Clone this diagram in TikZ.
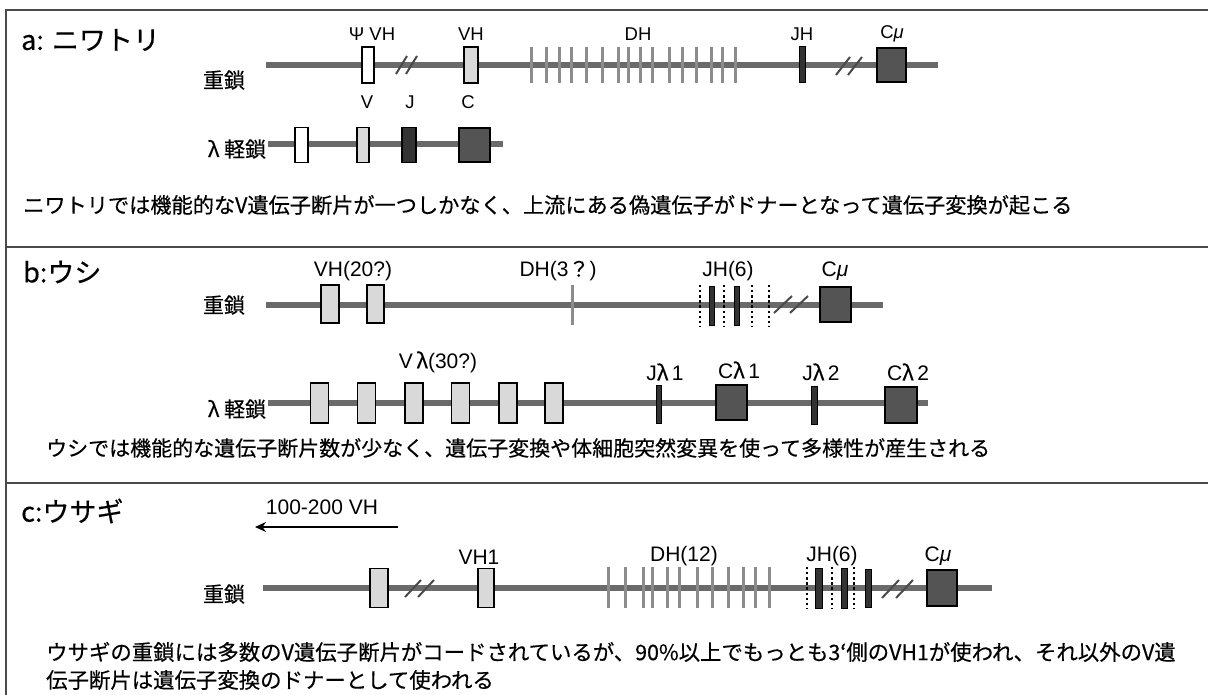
\documentclass[tikz,border=0pt]{standalone}
\usepackage{fontspec}
\setmainfont{Liberation Sans}
\newfontfamily\cjk[FakeBold=0.4]{Noto Sans CJK JP}
\usetikzlibrary{arrows.meta}
\definecolor{chromc}{HTML}{6A6A6A}
\definecolor{framec}{HTML}{4A4A4A}
\definecolor{lightc}{HTML}{D9D9D9}
\definecolor{darkc}{HTML}{545454}
\definecolor{jc}{HTML}{333333}
\definecolor{dhc}{HTML}{8C8C8C}
\tikzset{
  frame/.style={draw=framec, line width=1.8pt},
  chrom/.style={draw=chromc, line width=5.5pt},
  wbox/.style={draw=black, fill=white, line width=1.3pt, inner sep=0, outer sep=0},
  lbox/.style={draw=black, fill=lightc, line width=1.3pt, inner sep=0, outer sep=0},
  dbox/.style={draw=black, fill=darkc, line width=1.3pt, inner sep=0, outer sep=0},
  jbar/.style={draw=black, fill=jc, line width=1pt, inner sep=0, outer sep=0},
  dhbar/.style={draw=dhc, line width=3pt},
  dotl/.style={draw=black, line width=2.3pt, dash pattern=on 2.3pt off 2.8pt},
  brk/.style={draw=framec, line width=2pt},
  lbla/.style={font=\fontsize{18.5}{18.5}\selectfont, inner sep=0},
  lblb/.style={font=\fontsize{21}{21}\selectfont, inner sep=0},
  jlbl/.style={font=\cjk\fontsize{21}{21}\selectfont, inner sep=0},
  ttl/.style={font=\cjk\fontsize{27}{27}\selectfont, inner sep=0, anchor=west},
  body/.style={font=\cjk\fontsize{#1}{#1}\selectfont, inner sep=0, anchor=west},
}
\begin{document}
\begin{tikzpicture}[x=1pt,y=-1pt]
\useasboundingbox (0,0) rectangle (1208,695);
\fill[white] (0,0) rectangle (1208,695);
% frame
\coordinate (fTR) at (1208,10); \coordinate (fTL) at (6,10); \coordinate (fBL) at (6,695);
\coordinate (d1L) at (6,247); \coordinate (d1R) at (1208,247);
\coordinate (d2L) at (6,483); \coordinate (d2R) at (1208,483);
\draw[frame] (fTR) -- (fTL) -- (fBL);
\draw[frame] (d1L) -- (d1R);
\draw[frame] (d2L) -- (d2R);

% ===== a =====
\node[ttl] (aT) at (21,40) {a: ニワトリ};
\node[jlbl] (aHl) at (224,80) {重鎖};
\coordinate (aHs) at (266,65); \coordinate (aHe) at (938,65);
\draw[chrom] (aHs) -- (aHe);
\node[wbox, minimum width=12pt, minimum height=36pt] (aPsi) at (368,65) {};
\draw[brk] (396,74) -- (407,56);
\draw[brk] (406,74) -- (417,56);
\node[lbox, minimum width=14pt, minimum height=36pt] (aVH) at (471,65) {};
\foreach \x in {531.7,546,559.3,571.7,586,602.3,618.3,628.3,640.7,652.7,669.3,682.3,696.7,711.7,722.7,735}
  \draw[dhbar] (\x,47) -- (\x,83);
\node[jbar, minimum width=6pt, minimum height=36pt] (aJH) at (802,65) {};
\draw[brk] (836,75) -- (850,57);
\draw[brk] (848,75) -- (862,57);
\node[dbox, minimum width=29pt, minimum height=34pt] (aC) at (891.5,65) {};
\node[lbla] (aPsiL) at (372,34) {Ψ VH};
\node[lbla] (aVHL) at (471,34) {VH};
\node[lbla] (aDHL) at (638,34) {DH};
\node[lbla] (aJHL) at (802,34) {JH};
\node[lbla] (aCL) at (892,34) {C{\itshape μ}};
% lambda a
\node[jlbl] (aLl) at (237,149) {λ 軽鎖};
\coordinate (aLs) at (268,144); \coordinate (aLe) at (503,144);
\draw[chrom] (aLs) -- (aLe);
\node[wbox, minimum width=13pt, minimum height=35pt] (aL0) at (301.5,145) {};
\node[lbox, minimum width=12pt, minimum height=35pt] (aLV) at (363,145) {};
\node[dbox, fill=jc, minimum width=14pt, minimum height=35pt] (aLJ) at (409,145) {};
\node[dbox, minimum width=31pt, minimum height=34pt] (aLC) at (474.5,145) {};
\node[lbla] (aVL) at (367,102) {V};
\node[lbla] (aJL) at (410,102) {J};
\node[lbla] (aCCL) at (468,102) {C};
\node[body=21.2] (aTxt) at (23,205) {ニワトリでは機能的なV遺伝子断片が一つしかなく、上流にある偽遺伝子がドナーとなって遺伝子変換が起こる};

% ===== b =====
\node[ttl] (bT) at (23,272) {b:ウシ};
\node[jlbl] (bHl) at (224,305) {重鎖};
\coordinate (bHs) at (266,305); \coordinate (bHe) at (883,305);
\draw[chrom] (bHs) -- (bHe);
\node[lbox, minimum width=18pt, minimum height=38pt] (bV1) at (330,304) {};
\node[lbox, minimum width=17pt, minimum height=38pt] (bV2) at (375.5,304) {};
\draw[dhbar] (572,285) -- (572,325);
\foreach \x in {700,724,752,769}
  \draw[dotl] (\x,285) -- (\x,326);
\node[jbar, minimum width=5pt, minimum height=38pt] (bJ1) at (711.5,306) {};
\node[jbar, minimum width=5pt, minimum height=38pt] (bJ2) at (736.5,306) {};
\draw[brk] (774,313) -- (792,296);
\draw[brk] (790,313) -- (808,296);
\node[dbox, minimum width=31pt, minimum height=35pt] (bC) at (835.5,304.5) {};
\node[lblb] (bVHL) at (353,271) {VH(20?)};
\node[lblb] (bDHL) at (558,271) {DH(3{\cjk ？})};
\node[lblb] (bJHL) at (728,271) {JH(6)};
\node[lblb] (bCL) at (835,271) {C{\itshape μ}};
% lambda b
\node[jlbl] (bLl) at (237,409) {λ 軽鎖};
\coordinate (bLs) at (268,403); \coordinate (bLe) at (928,403);
\draw[chrom] (bLs) -- (bLe);
\foreach \x [count=\i] in {319.5,366.5,414,460.5,508,554}
  \node[lbox, minimum width=18pt, minimum height=40pt] (bLV\i) at (\x,403) {};
\node[jbar, minimum width=5pt, minimum height=38pt] (bLJ1) at (659,404) {};
\node[dbox, minimum width=31pt, minimum height=35pt] (bLC1) at (731.5,402.5) {};
\node[jbar, minimum width=6pt, minimum height=38pt] (bLJ2) at (814.5,405) {};
\node[dbox, minimum width=32pt, minimum height=36pt] (bLC2) at (901,405) {};
\node[lblb] (bVlL) at (438,362) {V\,{\cjk λ}(30?)};
\node[lblb] (bJ1L) at (665,372) {J{\cjk λ}\,1};
\node[lblb] (bC1L) at (739,370) {C{\cjk λ}\,1};
\node[lblb] (bJ2L) at (821,372) {J{\cjk λ}\,2};
\node[lblb] (bC2L) at (908,372) {C{\cjk λ}\,2};
\node[body=21] (bTxt) at (46,448) {ウシでは機能的な遺伝子断片数が少なく、遺伝子変換や体細胞突然変異を使って多様性が産生される};

% ===== c =====
\node[ttl] (cT) at (21,511) {c:ウサギ};
\node[lblb] (cArrL) at (322,507) {100-200 VH};
\coordinate (cAs) at (398,527); \coordinate (cAe) at (255,527);
\draw[line width=2.5pt, -{Stealth[length=11pt,width=10pt]}] (cAs) -- (cAe);
\node[jlbl] (cHl) at (224,594) {重鎖};
\coordinate (cHs) at (263,588); \coordinate (cHe) at (992,588);
\draw[chrom] (cHs) -- (cHe);
\node[lbox, minimum width=18pt, minimum height=39pt] (cV0) at (379,588) {};
\draw[brk] (405,597) -- (421,580);
\draw[brk] (418,597) -- (434,580);
\node[lbox, minimum width=16pt, minimum height=39pt] (cV1) at (486,588) {};
\foreach \x in {608,625,643,652,667,679,697,712,728,743,755,769}
  \draw[dhbar] (\x,567) -- (\x,608);
\foreach \x in {807,832,854}
  \draw[dotl] (\x,567) -- (\x,609);
\node[jbar, minimum width=7pt, minimum height=40pt] (cJ1) at (818.5,588) {};
\node[jbar, minimum width=6pt, minimum height=40pt] (cJ2) at (844,588) {};
\node[jbar, minimum width=6pt, minimum height=38pt] (cJ3) at (868,588) {};
\draw[brk] (882,598) -- (899,580);
\draw[brk] (896,598) -- (913,580);
\node[dbox, minimum width=30pt, minimum height=36pt] (cC) at (942,588) {};
\node[lblb] (cV1L) at (479,557) {VH1};
\node[lblb] (cDHL) at (684,556) {DH(12)};
\node[lblb] (cJHL) at (832,556) {JH(6)};
\node[lblb] (cCL) at (938,556) {C{\itshape μ}};
\node[body=21.4] (cTxt1) at (46,652) {ウサギの重鎖には多数のV遺伝子断片がコードされているが、90\%以上でもっとも3‘側のVH1が使われ、それ以外のV遺};
\node[body=21.4] (cTxt2) at (46,680) {伝子断片は遺伝子変換のドナーとして使われる};
\end{tikzpicture}
\end{document}
